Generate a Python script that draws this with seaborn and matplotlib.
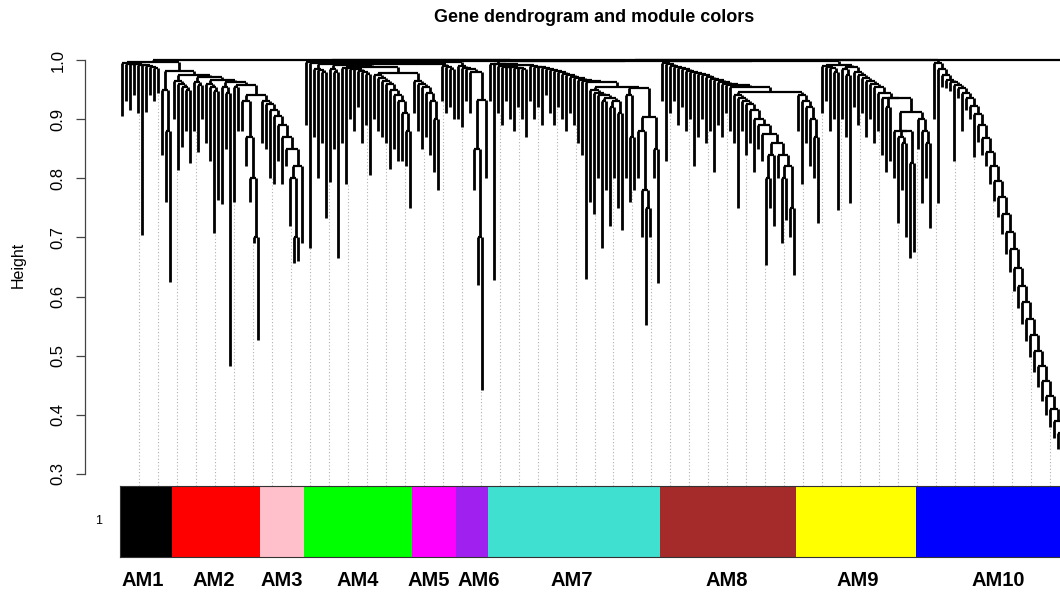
import numpy as np
import pandas as pd
import matplotlib
matplotlib.use("Agg")
import matplotlib.pyplot as plt
import matplotlib.transforms as mtransforms
from matplotlib.colors import ListedColormap
import seaborn as sns

# ---------------- data ----------------
modules = ["AM1", "AM2", "AM3", "AM4", "AM5", "AM6", "AM7", "AM8", "AM9", "AM10"]
module_colors = ["#000000", "#FF0000", "#FFC0CB", "#00FF00", "#FF00FF",
                 "#A020F0", "#40E0D0", "#A52A2A", "#FFFF00", "#0000FF"]

# leaf tip heights (left to right) and merge height between each leaf and the next one
am1_tips = [0.905, 0.93, 0.915, 0.94, 0.91, 0.704, 0.912, 0.94, 0.93, 0.945, 0.84, 0.76, 0.625]
am1_gaps = [0.995, 0.994, 0.993, 0.994, 0.992, 0.991, 0.99, 0.988, 0.986, 0.997, 0.95, 0.88, 0.982]

am2_tips = [0.90, 0.814, 0.853, 0.88, 0.826, 0.88, 0.845, 0.90, 0.86, 0.83, 0.707, 0.763,
            0.757, 0.85, 0.482, 0.76, 0.88, 0.88, 0.82, 0.76, 0.69, 0.527]
am2_gaps = [0.965, 0.96, 0.955, 0.95, 0.975, 0.962, 0.958, 0.972, 0.96, 0.955, 0.948, 0.967,
            0.955, 0.945, 0.962, 0.955, 0.958, 0.93, 0.87, 0.80, 0.70, 0.94]

am3_tips = [0.86, 0.85, 0.80, 0.79, 0.83, 0.79, 0.82, 0.72, 0.657, 0.66, 0.69]
am3_gaps = [0.93, 0.925, 0.915, 0.905, 0.89, 0.87, 0.85, 0.80, 0.70, 0.82, 0.9993]

am4_tips = [0.89, 0.682, 0.87, 0.80, 0.86, 0.733, 0.794, 0.85, 0.665, 0.86, 0.79, 0.90, 0.88,
            0.92, 0.86, 0.89, 0.805, 0.90, 0.88, 0.87, 0.86, 0.815, 0.85, 0.83, 0.83, 0.82, 0.75]
am4_gaps = [0.996, 0.995, 0.985, 0.983, 0.98, 0.993, 0.985, 0.98, 0.992, 0.987, 0.986, 0.985,
            0.984, 0.982, 0.98, 0.977, 0.989, 0.975, 0.97, 0.965, 0.96, 0.95, 0.94, 0.93,
            0.91, 0.88, 0.978]

am5_tips = [0.91, 0.88, 0.85, 0.87, 0.84, 0.81, 0.78, 0.93, 0.91, 0.92, 0.90]
am5_gaps = [0.965, 0.96, 0.955, 0.945, 0.93, 0.90, 0.994, 0.99, 0.988, 0.985, 0.997]

am6_tips = [0.90, 0.886, 0.93, 0.91, 0.78, 0.62, 0.442, 0.80]
am6_gaps = [0.99, 0.987, 0.985, 0.98, 0.85, 0.70, 0.932, 0.999]

am7_tips = [0.93, 0.628, 0.91, 0.89, 0.93, 0.90, 0.88, 0.92, 0.90, 0.87,
            0.93, 0.90, 0.92, 0.89, 0.94, 0.91, 0.89, 0.92, 0.90, 0.88, 0.91, 0.89, 0.86, 0.84, 0.63,
            0.76, 0.74, 0.80, 0.682, 0.78, 0.72, 0.80, 0.75, 0.712,
            0.80, 0.76, 0.78, 0.80, 0.70, 0.552, 0.70, 0.80, 0.623]
am7_gaps = [0.994, 0.993, 0.99, 0.989, 0.988, 0.988, 0.987, 0.986, 0.985, 0.992,
            0.99, 0.989, 0.988, 0.986, 0.985, 0.983, 0.981, 0.979, 0.977, 0.975, 0.972, 0.969,
            0.966, 0.964, 0.962,
            0.95, 0.945, 0.94, 0.93, 0.935, 0.92, 0.93, 0.91, 0.955,
            0.94, 0.87, 0.952, 0.88, 0.78, 0.75, 0.904, 0.85, 0.9988]

am8_tips = [0.93, 0.83, 0.91, 0.93, 0.89, 0.92, 0.88, 0.90, 0.82, 0.87, 0.90, 0.86, 0.88, 0.81,
            0.89, 0.87, 0.91, 0.88,
            0.86, 0.75, 0.88, 0.84, 0.86, 0.81, 0.85, 0.83,
            0.653, 0.75, 0.72, 0.80, 0.69, 0.73, 0.70, 0.636]
am8_gaps = [0.995, 0.993, 0.99, 0.988, 0.986, 0.984, 0.982, 0.98, 0.978, 0.976, 0.974, 0.971,
            0.968, 0.966, 0.963, 0.96, 0.958, 0.955,
            0.94, 0.935, 0.93, 0.925, 0.915, 0.90, 0.89, 0.875,
            0.80, 0.84, 0.86, 0.84, 0.80, 0.82, 0.75, 0.946]

am9_tips = [0.88, 0.79, 0.86, 0.82, 0.80, 0.724,
            0.91, 0.93, 0.88, 0.90, 0.746,
            0.90, 0.87, 0.758,
            0.92, 0.89, 0.91, 0.87, 0.90, 0.86, 0.88, 0.84, 0.81, 0.83,
            0.80, 0.725, 0.78, 0.70, 0.665, 0.675]
am9_gaps = [0.94, 0.93, 0.92, 0.90, 0.87, 0.9975,
            0.99, 0.988, 0.986, 0.98, 0.992,
            0.985, 0.975, 0.989,
            0.98, 0.975, 0.97, 0.965, 0.96, 0.955, 0.945, 0.935, 0.92, 0.935,
            0.88, 0.87, 0.86, 0.88, 0.826, 0.912]

am10_tips = [0.85, 0.758, 0.80, 0.716, 0.90, 0.758,
             0.955, 0.952, 0.948, 0.83, 0.935, 0.88, 0.915, 0.90, 0.836, 0.862, 0.84, 0.82,
             0.79, 0.762, 0.735, 0.705, 0.672, 0.642, 0.61, 0.58, 0.553, 0.525, 0.498, 0.472,
             0.447, 0.423, 0.40, 0.38, 0.36, 0.342, 0.326, 0.31, 0.296, 0.282, 0.27, 0.26, 0.25]
am10_gaps = [0.90, 0.88, 0.86, 0.9996, 0.995, 0.985,
             0.975, 0.967, 0.962, 0.957, 0.952, 0.945, 0.935, 0.922, 0.908, 0.89, 0.868, 0.845,
             0.82, 0.795, 0.768, 0.74, 0.71, 0.68, 0.648, 0.618, 0.59, 0.562, 0.535, 0.508,
             0.482, 0.457, 0.432, 0.41, 0.39, 0.37, 0.352, 0.335, 0.32, 0.305, 0.29, 0.278, 0.9999]

# genes beyond the right edge of the cropped picture (joined at the root)
outside_tips = [0.9995]

y_ticks = [0.3, 0.4, 0.5, 0.6, 0.7, 0.8, 0.9, 1.0]
y_tick_labels = ["0.3", "0.4", "0.5", "0.6", "0.7", "0.8", "0.9", "1.0"]
title = "Gene dendrogram and module colors"
y_label = "Height"
guide_count = 50

# ---------------- layout / style ----------------
W, H = 1060, 592
label_nudge_px = {"AM1": -3.5, "AM2": -2.0, "AM5": -5.0, "AM6": 7.0, "AM7": -2.0,
                  "AM8": -1.5, "AM9": 1.5, "AM10": -3.5}

# ---------------- assemble ----------------
tips_by_module = [am1_tips, am2_tips, am3_tips, am4_tips, am5_tips,
                  am6_tips, am7_tips, am8_tips, am9_tips, am10_tips]
gaps_by_module = [am1_gaps, am2_gaps, am3_gaps, am4_gaps, am5_gaps,
                  am6_gaps, am7_gaps, am8_gaps, am9_gaps, am10_gaps]
sizes = [len(t) for t in tips_by_module]
n_in = sum(sizes)
tips = np.array(sum(tips_by_module, []) + outside_tips, dtype=float)
gaps = np.array(sum(gaps_by_module, []), dtype=float)
xpos = np.arange(len(tips)) + 0.5
module_index = np.repeat(np.arange(len(modules)), sizes)

vx, vy0, vy1 = [], [], []
hy, hx0, hx1 = [], [], []
leaf_bottom = tips.copy()


def build(lo, hi):
    if lo == hi:
        return xpos[lo], tips[lo], lo
    m = lo + int(np.argmax(gaps[lo:hi]))
    lx, lh, lleaf = build(lo, m)
    rx, rh, rleaf = build(m + 1, hi)
    h = gaps[m]
    for cx, ch, leaf in ((lx, lh, lleaf), (rx, rh, rleaf)):
        bottom = min(ch, h - 0.004) if leaf is not None else ch
        if leaf is not None:
            leaf_bottom[leaf] = bottom
        vx.append(cx); vy0.append(bottom); vy1.append(h)
    hy.append(h); hx0.append(lx); hx1.append(rx)
    return (lx + rx) / 2.0, h, None


build(0, len(tips) - 1)

# ---------------- figure ----------------
sns.set_style("white")
plt.rcParams["font.family"] = ["Liberation Sans", "DejaVu Sans"]
plt.rcParams["text.color"] = "black"

fig = plt.figure(figsize=(W / 100, H / 100), dpi=100)

px_per_leaf = 4.0
x0_px = 120.0          # pixel of leaf coordinate 0
y_bot_px, y_top_px = 486.0, 45.0
h_per_px = 1.0 / 591.4
ylim_bot = 1.0 - (y_bot_px - 60.0) * h_per_px
ylim_top = 1.0 + (60.0 - y_top_px) * h_per_px

ax = fig.add_axes([85 / W, 1 - y_bot_px / H, (W - 85) / W, (y_bot_px - y_top_px) / H])
ax.set_xlim((85 - x0_px) / px_per_leaf, (W - x0_px) / px_per_leaf)
ax.set_ylim(ylim_bot, ylim_top)

# dotted guide lines
gx = np.arange(1, guide_count + 1) * n_in / (guide_count + 1)
gleaf = np.clip(np.round(gx - 0.5).astype(int), 0, n_in - 1)
ax.vlines(gx, ylim_bot, leaf_bottom[gleaf], colors="#b0b0b0",
          linestyles=(0, (1, 2)), linewidth=0.8, zorder=1)

# dendrogram
ax.vlines(vx, vy0, vy1, colors="black", linewidth=2.0, zorder=2)
ax.hlines(hy, hx0, hx1, colors="black", linewidth=1.6, zorder=2)

for s in ["top", "right", "bottom"]:
    ax.spines[s].set_visible(False)
ax.spines["left"].set_bounds(0.3, 1.0)
ax.spines["left"].set_color("#444444")
ax.spines["left"].set_linewidth(0.9)
ax.set_xticks([])
ax.set_yticks(y_ticks)
ax.set_yticklabels(y_tick_labels, rotation=90, va="center")
ax.tick_params(axis="y", length=6.5, width=0.9, color="#444444", pad=7.5,
               labelsize=12, labelcolor="black", left=True)

# module colour bar
bar_ax = fig.add_axes([x0_px / W, 1 - 557 / H, (W - x0_px) / W, 71 / H])
bar_df = pd.DataFrame([module_index])
sns.heatmap(bar_df, ax=bar_ax, cmap=ListedColormap(module_colors),
            vmin=-0.5, vmax=len(modules) - 0.5, cbar=False,
            xticklabels=False, yticklabels=["1"])
bar_ax.set_xlim(0, (W - x0_px) / px_per_leaf)
bar_ax.set_ylim(1, 0)
bar_ax.tick_params(axis="y", length=0, pad=13, labelsize=9, labelcolor="black")
for lab in bar_ax.get_yticklabels():
    lab.set_rotation(0)
for s in ["top", "bottom", "left"]:
    bar_ax.spines[s].set_visible(True)
    bar_ax.spines[s].set_color("#333333")
    bar_ax.spines[s].set_linewidth(0.8)
bar_ax.spines["right"].set_visible(False)

trans = mtransforms.blended_transform_factory(bar_ax.transData, bar_ax.transAxes)
starts = np.concatenate([[0], np.cumsum(sizes)[:-1]])
ends = np.cumsum(sizes)
for name, s, e in zip(modules, starts, ends):
    cx = (s + e) / 2.0 + label_nudge_px.get(name, 0.0) / px_per_leaf
    bar_ax.text(cx, -29 / 71, name, transform=trans, ha="center",
                va="baseline", fontsize=14.5, fontweight="bold", color="black",
                clip_on=False)

fig.text(594.5 / W, 1 - 22 / H, title, ha="center", va="baseline",
         fontsize=13, fontweight="bold", color="black")
fig.text(18 / W, 1 - 265 / H, y_label, rotation=90, ha="center", va="center",
         fontsize=11.5, color="black")

fig.savefig("out.png", dpi=100)
